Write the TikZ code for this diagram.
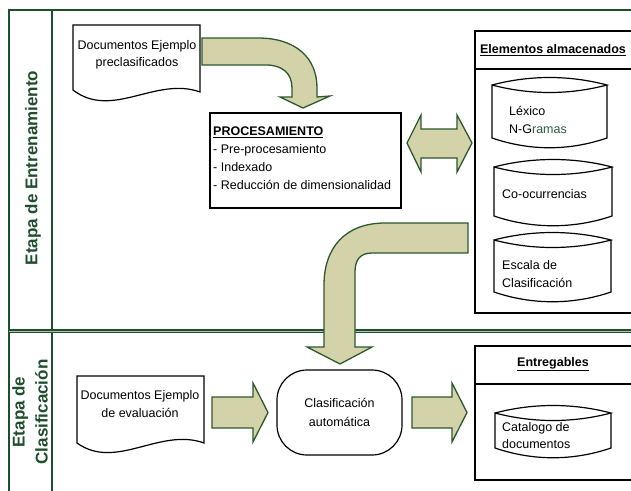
\documentclass[tikz,border=0pt]{standalone}
\usepackage{fontspec}
\setmainfont{Liberation Sans}
\definecolor{framegreen}{HTML}{1F4E2D}
\definecolor{arrowfill}{HTML}{D4D2A9}
\definecolor{arrowdraw}{HTML}{2B5A2E}
\definecolor{ramagreen}{HTML}{2E5E3A}
\newcommand\drumshape[4]{%
  \path[fill=white] (#1,#3) .. controls +(38,-10) and +(-38,-10) .. (#2,#3) -- (#2,#4) .. controls +(-38,13) and +(38,13) .. (#1,#4) -- cycle;
  \draw[boxline] (#1,#3) .. controls +(38,-10) and +(-38,-10) .. (#2,#3) .. controls +(-38,10) and +(38,10) .. (#1,#3) -- (#1,#4) .. controls +(38,13) and +(-38,13) .. (#2,#4) -- (#2,#3);
}
\begin{document}
\begin{tikzpicture}[x=1pt,y=-1pt,
  laneline/.style={draw=framegreen, line width=2pt},
  blockarrow/.style={fill=arrowfill, draw=arrowdraw, line width=1.3pt, line join=miter},
  boxline/.style={draw=black, line width=1.2pt},
  txt/.style={font=\fontsize{12.5}{18}\selectfont, inner sep=0pt, align=center},
  ltxt/.style={txt, align=left, anchor=west},
  lanelabel/.style={rotate=90, inner sep=0pt, align=center, text=framegreen, font=\bfseries\fontsize{17}{23}\selectfont},
  title/.style={inner sep=0pt, font=\bfseries\fontsize{12.5}{15}\selectfont}]
\useasboundingbox (0,0) rectangle (631,490);
\fill[white] (0,0) rectangle (631,490);
\clip (0,0) rectangle (631,490);

% swimlane frame
\draw[laneline] (9,495) -- (9,10) -- (640,10);
\draw[laneline] (52,10) -- (52,495);
\draw[draw=framegreen, line width=1.1pt, double=framegreen!35, double distance=1pt] (9,331) -- (640,331);

\node[lanelabel] (lane1) at (33,168) {Etapa de Entrenamiento};
\node[lanelabel] (lane2) at (30,412) {Etapa de\\Clasificación};

% stored elements container
\draw[boxline, line width=1.5pt] (475,31) rectangle (645,313);
\draw[boxline, line width=1.5pt] (475,69) -- (645,69);
\node[title] (elem) at (553,50) {\underline{Elementos almacenados}};

% deliverables container
\draw[boxline, line width=1.5pt] (475,346) rectangle (645,480);
\draw[boxline, line width=1.5pt] (475,384) -- (645,384);
\node[title] (entr) at (553,364) {\underline{Entregables}};

% drums
\drumshape{492}{607}{85}{138}
\node[ltxt] (lex) at (509,120) {Léxico\\N-G\textcolor{ramagreen}{ramas}};
\drumshape{494}{612}{167}{216}
\node[ltxt] (coo) at (502,194) {Co-ocurrencias};
\drumshape{494}{611}{240}{292}
\node[ltxt] (esc) at (502,274) {Escala de\\Clasificación};
\drumshape{495}{611}{413}{448}
\node[ltxt, font=\fontsize{12.5}{17}\selectfont] (cat) at (502,435.5) {Catalogo de\\documentos};

% documents
\draw[boxline, fill=white] (73,25) -- (200,25) -- (200,92) .. controls (156,76) and (112,120) .. (73,90) -- cycle;
\node[txt, font=\fontsize{12.5}{17}\selectfont] (doc1) at (137,55) {Documentos Ejemplo\\preclasificados};
\draw[boxline, fill=white] (77,376) -- (204,376) -- (204,443) .. controls (160,427) and (116,471) .. (77,443) -- cycle;
\node[txt] (doc2) at (140,404) {Documentos Ejemplo\\de evaluación};

% processing box
\draw[boxline, line width=1.4pt] (210,113) rectangle (401,208);
\node[ltxt] (proc) at (213,158) {\underline{\textbf{PROCESAMIENTO}}\\- Pre-procesamiento\\- Indexado\\- Reducción de dimensionalidad};

% automatic classification terminal
\node[draw=black, line width=1.2pt, rounded corners=30pt, minimum width=125pt, minimum height=85pt, inner sep=0pt, align=center, font=\fontsize{12.5}{19}\selectfont] (clas) at (339.5,412.5) {Clasificación\\automática};

% block arrows
\draw[blockarrow] (202,38) -- (258,38) .. controls (296,38) and (317,58) .. (317,88) -- (317,97) -- (330,96) -- (303,108) -- (280,97) -- (292,97) -- (292,88) .. controls (292,73) and (282,65) .. (266,65) -- (202,65) -- cycle;
\draw[blockarrow] (407,143) -- (421,115) -- (421,129) -- (457,129) -- (457,115) -- (472,143) -- (457,172) -- (457,158) -- (421,158) -- (421,172) -- cycle;
\draw[blockarrow] (468,223) -- (385,223) .. controls (345,223) and (324,248) .. (324,285) -- (324,347) -- (307,347) -- (340,364) -- (372,347) -- (355,347) -- (355,272) .. controls (355,260) and (360,253) .. (372,253) -- (468,253) -- cycle;
\draw[blockarrow] (212,397) -- (253,397) -- (253,383) -- (268,412.5) -- (253,442) -- (253,428) -- (212,428) -- cycle;
\draw[blockarrow] (412,397) -- (452,397) -- (452,383) -- (467,412.5) -- (452,442) -- (452,428) -- (412,428) -- cycle;
\end{tikzpicture}
\end{document}
